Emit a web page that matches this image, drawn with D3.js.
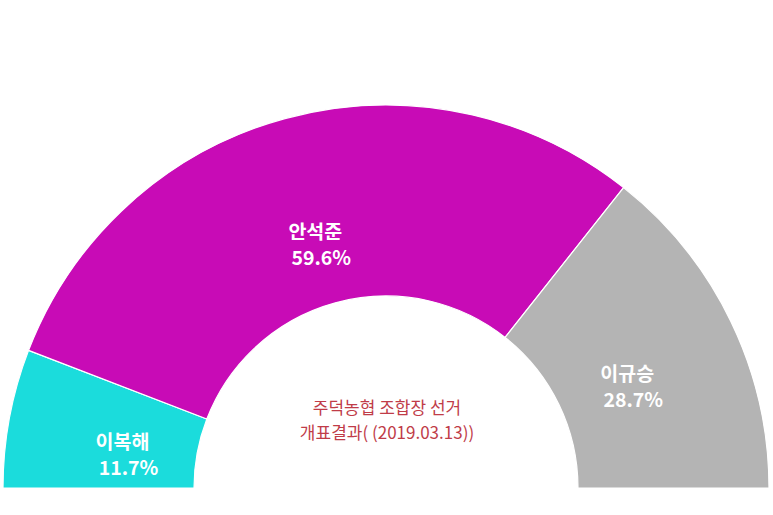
<!DOCTYPE html>
<html>
<head>
<meta charset="utf-8">
<script src="https://cdn.jsdelivr.net/npm/d3@7"></script>
<style>
  body { margin: 0; background: #fff; }
  text { font-family: "Noto Sans CJK KR", "Noto Sans", sans-serif; }
</style>
</head>
<body>
<div id="chart"></div>
<script>
// Data
const names = ["이복해", "안석준", "이규승"];
const shares = [11.7, 59.6, 28.7];
const colors = ["#1bdcdc", "#c80bb6", "#b4b4b4"];
const titleLines = ["주덕농협 조합장 선거", "개표결과( (2019.03.13))"];

const width = 773;
const height = 515;
const cx = 386, cy = 488;
const outerR = 383, innerR = 192, labelR = 268;

const svg = d3.select("#chart")
  .append("svg")
  .attr("width", width)
  .attr("height", height);

const pie = d3.pie()
  .sort(null)
  .startAngle(-Math.PI / 2)
  .endAngle(Math.PI / 2)
  .value(d => d);

const arc = d3.arc()
  .innerRadius(innerR)
  .outerRadius(outerR);

const arcs = pie(shares);

const g = svg.append("g")
  .attr("transform", `translate(${cx}, ${cy})`);

g.selectAll("path")
  .data(arcs)
  .join("path")
  .attr("d", arc)
  .attr("fill", (d, i) => colors[i])
  .attr("stroke", "#fff")
  .attr("stroke-width", 1.2);

// Labels
const labels = g.selectAll("g.label")
  .data(arcs)
  .join("g")
  .attr("class", "label")
  .attr("transform", d => {
    const a = (d.startAngle + d.endAngle) / 2;
    return `translate(${labelR * Math.sin(a)}, ${-labelR * Math.cos(a) + 3})`;
  });

labels.append("text")
  .attr("text-anchor", "middle")
  .attr("dy", "0.35em")
  .attr("fill", "#fff")
  .attr("font-size", 19.5)
  .attr("font-weight", "bold")
  .text((d, i) => names[i]);

labels.append("text")
  .attr("text-anchor", "middle")
  .attr("x", 6)
  .attr("y", 26)
  .attr("dy", "0.35em")
  .attr("fill", "#fff")
  .attr("font-size", 19.5)
  .attr("font-weight", "bold")
  .text((d, i) => shares[i].toFixed(1) + "%");

// Center title
g.selectAll("text.title")
  .data(titleLines)
  .join("text")
  .attr("class", "title")
  .attr("text-anchor", "middle")
  .attr("x", 1)
  .attr("y", (d, i) => -80 + i * 25)
  .attr("dy", "0.35em")
  .attr("fill", "#c03c48")
  .attr("font-size", 17)
  .text(d => d);
</script>
</body>
</html>
